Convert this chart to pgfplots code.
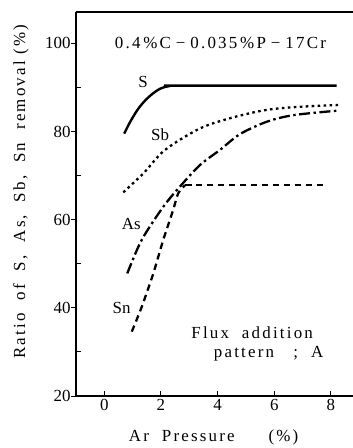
\documentclass[border=0pt]{standalone}
\usepackage{fontspec}
\setmainfont{Liberation Serif}
\newfontfamily\spc[LetterSpace=13]{Liberation Serif}
\usepackage{pgfplots}
\pgfplotsset{compat=1.18}
\begin{document}
\begin{tikzpicture}
\path[use as bounding box] (-76bp,-52bp) rectangle (277bp,396bp);
\begin{axis}[
  scale only axis, width=277bp, height=384bp,
  xmin=-1, xmax=8.78, ymin=20, ymax=107.1,
  axis lines*=left,
  axis line style={line width=1.3pt},
  clip=false,
  xtick={0,2,4,6,8}, ytick={20,40,60,80,100},
  xtick align=inside, ytick align=outside,
  major tick length=5bp,
  tick style={line width=1pt, black},
  extra y ticks={30,50,70,90},
  extra y tick labels={},
  extra y tick style={tick align=inside},
  font=\fontsize{17}{19}\selectfont,
  tick label style={font=\fontsize{17}{19}\selectfont},
  yticklabel style={xshift=3bp},
  /pgf/number format/assume math mode=true,
  xlabel={\spc Ar\ \ Pressure\qquad(\%)},
  ylabel={\spc Ratio\ \ of\ \ S,\ \ As,\ \ Sb,\ \ Sn\ \ removal\ (\%)},
  xlabel style={at={(axis description cs:0.497,0)}, anchor=center, yshift=-41bp},
  ylabel style={at={(axis description cs:-0.199,0.532)}, anchor=center},
]
\draw[line width=1.3pt] (rel axis cs:0,1) -- (rel axis cs:1,1);
% S
\addplot[black, line width=2.4pt, smooth, tension=0.6] coordinates {
 (0.7,79.5) (0.95,82.6) (1.25,85.6) (1.6,88.0) (1.97,89.7) (2.3,90.3) (2.6,90.4) (8.2,90.4)};
% Sb
\addplot[black, line width=2.3pt, dash pattern=on 2.6pt off 3.4pt, smooth] coordinates {
 (0.67,66.2) (1.38,70.5) (2.14,75.8) (3.38,80.7) (4.55,83.2) (5.73,84.9) (6.9,85.6) (8.26,86.0)};
% As
\addplot[black, line width=2.3pt, dash pattern=on 11pt off 3.5pt on 2.5pt off 3.5pt, smooth] coordinates {
 (0.81,47.8) (1.32,55.4) (2.08,62.9) (2.67,67.5) (3.38,72.4) (4.08,75.8) (4.79,79.4) (5.73,82.2) (6.67,83.7) (8.2,84.7)};
% Sn
\addplot[black, line width=2.3pt, dash pattern=on 6.5pt off 4.5pt, smooth, tension=0.4] coordinates {
 (0.97,34.6) (1.32,40.2) (1.73,47.8) (2.08,55.4) (2.43,62.2) (2.61,66.0) (2.85,67.8)};
\addplot[black, line width=2.3pt, dash pattern=on 6.5pt off 4.5pt] coordinates {
 (2.85,67.8) (7.8,67.8)};
\node at (axis cs:1.37,91.3) {S};
\node at (axis cs:1.97,79.3) {Sb};
\node at (axis cs:0.95,59.0) {As};
\node at (axis cs:0.61,40.0) {Sn};
\node at (axis cs:4.1,100) {\spc 0.4\,\%C\hspace{5bp}−\hspace{5bp}0.035\,\%P\hspace{5bp}−\hspace{5bp}17Cr};
\node at (axis cs:5.22,34.3) {\spc Flux\ \ addition};
\node at (axis cs:5.8,29.7) {\spc pattern\ \ \ ;\ \ A};
\end{axis}
\end{tikzpicture}
\end{document}
